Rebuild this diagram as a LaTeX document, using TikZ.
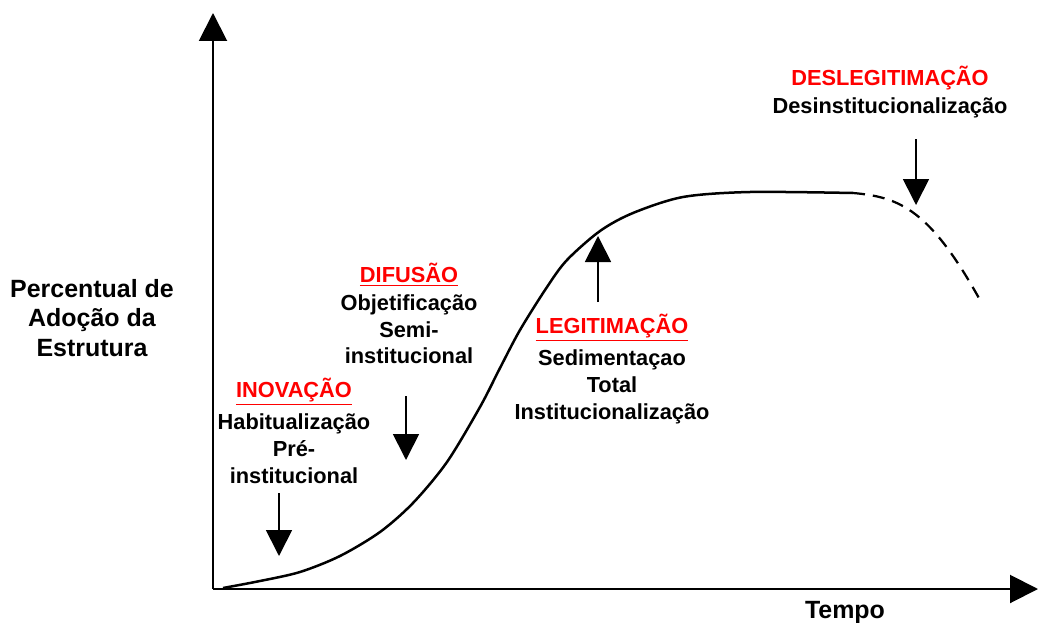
\documentclass[tikz,border=0pt]{standalone}
\usepackage{fontspec}
\setmainfont{Liberation Sans}
\usepackage{xcolor}
\usetikzlibrary{arrows.meta,positioning}

\begin{document}
\begin{tikzpicture}[x=0.2mm, y=-0.2mm, node distance={0pt},
  txt/.style = {font=\fontsize{12.4}{15.2}\selectfont\bfseries, align=center, inner sep=0pt},
  axislabel/.style = {txt, font=\fontsize{14.2}{16.6}\selectfont\bfseries},
  stage/.style = {txt, text=red},
  stagearrow/.style = {line width=0.35mm, -{Triangle[width=5.2mm,length=5.2mm]}},
  axis/.style = {line width=0.4mm, -{Triangle[width=5.6mm,length=5.6mm]}}]
\useasboundingbox (0,0) rectangle (1039,623);

% axes
\coordinate (O) at (213,589);
\coordinate (ytop) at (213,13);
\coordinate (xend) at (1038,589);
\draw[axis] (O) -- (ytop);
\draw[axis] (O) -- (xend);
\node[axislabel] (ylab) at (92,318) {Percentual de\\Adoção da\\Estrutura};
\node[axislabel] (xlab) at (845,612) {Tempo};

% curve
\draw[line width=0.5mm, line join=round] plot[smooth, tension=0.5] coordinates {(223,588) (260,581) (300,572) (340,556) (380,532) (413,503) (447,462) (480,407) (500,368) (520,330) (547,287) (567,260) (600,231) (633,213) (683,197) (750,192) (853,193)};
\draw[line width=0.45mm, dashed, dash pattern=on 2.4mm off 1.6mm] (853,193) .. controls (900,197) and (930,210) .. (980,300);

% stages
\node[stage] (ino) at (294,392) {\underline{INOVAÇÃO}};
\node[txt] (ino-t) [below=1.5mm of ino] {Habitualização\\Pré-\\institucional};
\node[stage] (dif) at (409,275) {\underline{DIFUSÃO}};
\node[txt] (dif-t) [below=1.5mm of dif] {Objetificação\\Semi-\\institucional};
\node[stage] (leg) at (612,328) {\underline{LEGITIMAÇÃO}};
\node[txt] (leg-t) [below=1.5mm of leg] {Sedimentaçao\\Total\\Institucionalização};
\node[stage] (des) at (890,78) {DESLEGITIMAÇÃO};
\node[txt] (des-t) [below=1.5mm of des] {Desinstitucionalização};

% arrows
\coordinate (ino-a) at (279,493);
\coordinate (ino-b) at (279,556);
\coordinate (dif-a) at (406,396);
\coordinate (dif-b) at (406,460);
\coordinate (leg-a) at (598,302);
\coordinate (leg-b) at (598,236);
\coordinate (des-a) at (916,139);
\coordinate (des-b) at (916,205);
\draw[stagearrow] (ino-a) -- (ino-b);
\draw[stagearrow] (dif-a) -- (dif-b);
\draw[stagearrow] (leg-a) -- (leg-b);
\draw[stagearrow] (des-a) -- (des-b);
\end{tikzpicture}
\end{document}
